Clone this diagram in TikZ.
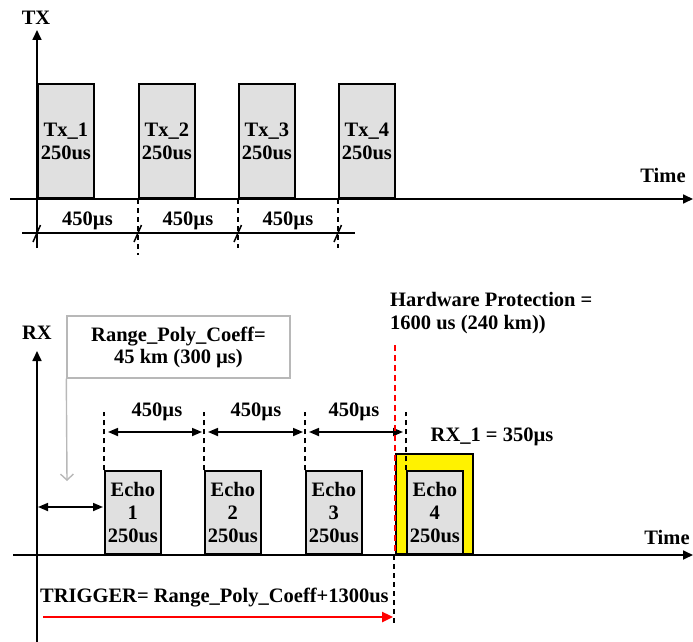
\documentclass[tikz,border=0pt]{standalone}
\usepackage{fontspec}
\setmainfont{Liberation Serif}
\usetikzlibrary{arrows.meta}
\begin{document}
\begin{tikzpicture}[x=1pt,y=-1pt,
  font=\fontsize{20.5}{23}\selectfont\bfseries,
  pulse/.style={draw, line width=1.7pt, fill=black!12, inner sep=0pt, align=center, anchor=south west},
  ax/.style={line width=1.7pt, -{Triangle[length=10pt,width=9pt]}},
  dimarrow/.style={line width=1.7pt, {Triangle[length=10pt,width=8pt]}-{Triangle[length=10pt,width=8pt]}},
  dsh/.style={line width=1.5pt, dash pattern=on 5pt off 4pt},
  lbl/.style={inner sep=0pt}]
\useasboundingbox (0,0) rectangle (693,642);

% ---------------- TX panel ----------------
\coordinate (txb0) at (10,199);
\coordinate (txb1) at (693,199);
\coordinate (txa0) at (37,248);
\coordinate (txa1) at (37,30);
\node[lbl] (txlbl) at (36,18) {TX};
\node[lbl] (time1) at (663,175) {Time};

\node[pulse, minimum width=56pt, minimum height=114pt] (tx1) at (37,199) {Tx\_1\\250us};
\node[pulse, minimum width=56pt, minimum height=114pt] (tx2) at (138,199) {Tx\_2\\250us};
\node[pulse, minimum width=56pt, minimum height=114pt] (tx3) at (238,199) {Tx\_3\\250us};
\node[pulse, minimum width=56pt, minimum height=114pt] (tx4) at (338,199) {Tx\_4\\250us};

\draw[ax] (txb0) -- (txb1);
\draw[ax] (txa0) -- (txa1);

% dashed verticals
\coordinate (td2) at (138,255);
\coordinate (td3) at (238,248);
\coordinate (td4) at (338,248);
\draw[dsh] (tx2.south west) -- (td2);
\draw[dsh] (tx3.south west) -- (td3);
\draw[dsh] (tx4.south west) -- (td4);

% dimension line
\coordinate (dl0) at (22,233);
\coordinate (dl1) at (355,233);
\draw[line width=1.7pt] (dl0) -- (dl1);
\foreach \x in {37,138,238,338}{
  \draw[line width=1.5pt] (\x-4,242) -- (\x+3.5,225);
}
\node[lbl] (t450a) at (87.5,221) {450µs};
\node[lbl] (t450b) at (188,221) {450µs};
\node[lbl] (t450c) at (288,221) {450µs};

% ---------------- RX panel ----------------
\coordinate (rxb0) at (13,555);
\coordinate (rxb1) at (693,555);
\coordinate (rxa0) at (37,642);
\coordinate (rxa1) at (37,351);
\node[lbl] (rxlbl) at (37,333) {RX};
\node[lbl] (time2) at (667,537) {Time};

% yellow window
\node[draw, line width=1.7pt, fill=yellow, minimum width=77pt, minimum height=100pt, inner sep=0pt, anchor=south west] (rx1win) at (395,555) {};

\node[pulse, minimum width=56pt, minimum height=83pt] (e1) at (104,555) {Echo\\1\\250us};
\node[pulse, minimum width=56pt, minimum height=83pt] (e2) at (204,555) {Echo\\2\\250us};
\node[pulse, minimum width=56pt, minimum height=83pt] (e3) at (305,555) {Echo\\3\\250us};
\node[pulse, minimum width=56pt, minimum height=83pt] (e4) at (406,555) {Echo\\4\\250us};

\draw[ax] (rxb0) -- (rxb1);
\draw[ax] (rxa0) -- (rxa1);

% dashed verticals above echoes
\coordinate (rd1) at (104,412);
\coordinate (rd2) at (204,412);
\coordinate (rd3) at (305,412);
\coordinate (rd4) at (406,412);
\draw[dsh] (e1.north west) -- (rd1);
\draw[dsh] (e2.north west) -- (rd2);
\draw[dsh] (e3.north west) -- (rd3);
\draw[dsh] (e4.north west) -- (rd4);

% 450us arrows
\coordinate (ra1) at (108,432);
\coordinate (ra2) at (202,432);
\coordinate (ra3) at (208,432);
\coordinate (ra4) at (303,432);
\coordinate (ra5) at (309,432);
\coordinate (ra6) at (403,432);
\draw[dimarrow] (ra1) -- (ra2);
\draw[dimarrow] (ra3) -- (ra4);
\draw[dimarrow] (ra5) -- (ra6);
\node[lbl] (r450a) at (157,412) {450µs};
\node[lbl] (r450b) at (256,412) {450µs};
\node[lbl] (r450c) at (354,412) {450µs};

% range box
\node[draw=black!28, line width=1.4pt, minimum width=223pt, minimum height=62pt, inner sep=0pt, align=center,
      font=\fontsize{20.5}{22}\selectfont\bfseries] (rng) at (178.5,347) {Range\_Poly\_Coeff=\\45 km (300 µs)};
\coordinate (rngtip) at (67,481);
\draw[black!28, line width=1.4pt, -{Straight Barb[length=6pt,width=13pt]}] (rng.south west) -- (rngtip);

% offset double arrow
\coordinate (oa0) at (38,507);
\coordinate (oa1) at (103,507);
\draw[dimarrow] (oa0) -- (oa1);

% hardware protection
\node[lbl, anchor=west, align=left] (hwp) at (390,313.5) {Hardware Protection =\\1600 us (240 km))};
\coordinate (hw0) at (395,345);
\coordinate (hw1) at (395,555);
\draw[red, line width=2pt, dash pattern=on 6pt off 4pt] (hw0) -- (hw1);

\node[lbl] (rx1lbl) at (492,437) {RX\_1 = 350µs};

% trigger
\coordinate (tgd0) at (394,555);
\coordinate (tgd1) at (394,624);
\draw[dsh] (tgd0) -- (tgd1);
\node[lbl, anchor=west] (trig) at (40,598) {TRIGGER= Range\_Poly\_Coeff+1300us};
\coordinate (tr0) at (43,617);
\coordinate (tr1) at (393,617);
\draw[red, line width=2.4pt, -{Triangle[length=11pt,width=10pt]}] (tr0) -- (tr1);
\end{tikzpicture}
\end{document}
